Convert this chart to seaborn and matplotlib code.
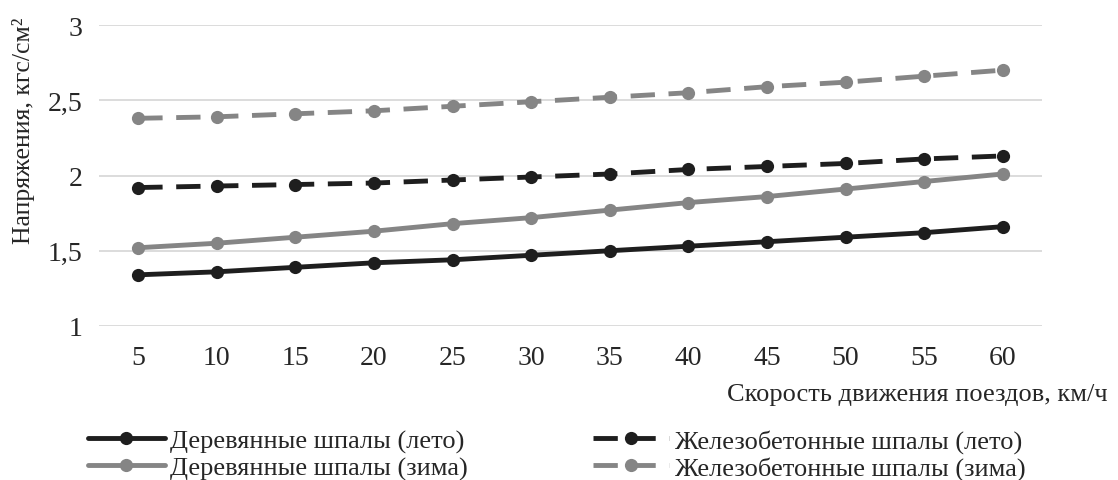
import matplotlib
matplotlib.use("Agg")
import matplotlib.pyplot as plt
import seaborn as sns
import pandas as pd

speeds = [5, 10, 15, 20, 25, 30, 35, 40, 45, 50, 55, 60]
wood_summer = [1.34, 1.36, 1.39, 1.42, 1.44, 1.47, 1.50, 1.53, 1.56, 1.59, 1.62, 1.66]
wood_winter = [1.52, 1.55, 1.59, 1.63, 1.68, 1.72, 1.77, 1.82, 1.86, 1.91, 1.96, 2.01]
concrete_summer = [1.92, 1.93, 1.94, 1.95, 1.97, 1.99, 2.01, 2.04, 2.06, 2.08, 2.11, 2.13]
concrete_winter = [2.38, 2.39, 2.41, 2.43, 2.46, 2.49, 2.52, 2.55, 2.59, 2.62, 2.66, 2.70]
series_names = ["Деревянные шпалы (лето)", "Деревянные шпалы (зима)",
                "Железобетонные шпалы (лето)", "Железобетонные шпалы (зима)"]
y_ticks = [1, 1.5, 2, 2.5, 3]
y_tick_labels = ["1", "1,5", "2", "2,5", "3"]

sns.set_theme(style="white")
plt.rcParams["font.family"] = ["Liberation Serif", "DejaVu Serif"]

dark = "#1e1e1e"
gray = "#858585"
styles = [
    (dark, "-"),
    (gray, "-"),
    (dark, (0, (5, 2.8))),
    (gray, (0, (5, 2.8))),
]
values = [wood_summer, wood_winter, concrete_summer, concrete_winter]

fig = plt.figure(figsize=(11.18, 4.81), dpi=100)
ax = fig.add_axes([99/1118, 1-327/481, 943/1118, 301/481])

pos = list(range(len(speeds)))
for name, vals, (c, ls) in zip(series_names, values, styles):
    df = pd.DataFrame({"x": pos, "y": vals})
    sns.lineplot(data=df, x="x", y="y", ax=ax, color=c, linestyle=ls,
                 linewidth=3.5, marker="o", markersize=9.5, markeredgewidth=0,
                 label=name, legend=False)

ax.set_xlim(-0.5, len(speeds) - 0.5)
ax.set_ylim(1, 3)
ax.set_xticks(pos)
ax.set_xticklabels([str(s) for s in speeds], fontsize=20)
ax.set_yticks(y_ticks)
ax.set_yticklabels(y_tick_labels, fontsize=20)
ax.tick_params(axis="x", length=0, pad=14)
ax.tick_params(axis="y", length=0, pad=12)
ax.grid(axis="y", color="#d9d9d9", linewidth=1.3)
ax.set_axisbelow(True)
for s in ax.spines.values():
    s.set_visible(False)
ax.set_xlabel("")
ax.set_ylabel("Напряжения, кгс/см²", fontsize=18.5)
ax.yaxis.set_label_coords(-0.068, 0.652)

fig.text(1108/1118, 1-395/481, "Скорость движения поездов, км/ч", ha="right", va="center", fontsize=19)

handles, labels = ax.get_legend_handles_labels()
fig.legend(handles, labels,
           loc="upper left", bbox_to_anchor=(88/1118, 1-430/481), ncol=2,
           frameon=False, fontsize=19, handlelength=2.9, handletextpad=0.2,
           columnspacing=4.75, labelspacing=0.12, borderpad=0, borderaxespad=0)

fig.savefig("out.png", dpi=100)
